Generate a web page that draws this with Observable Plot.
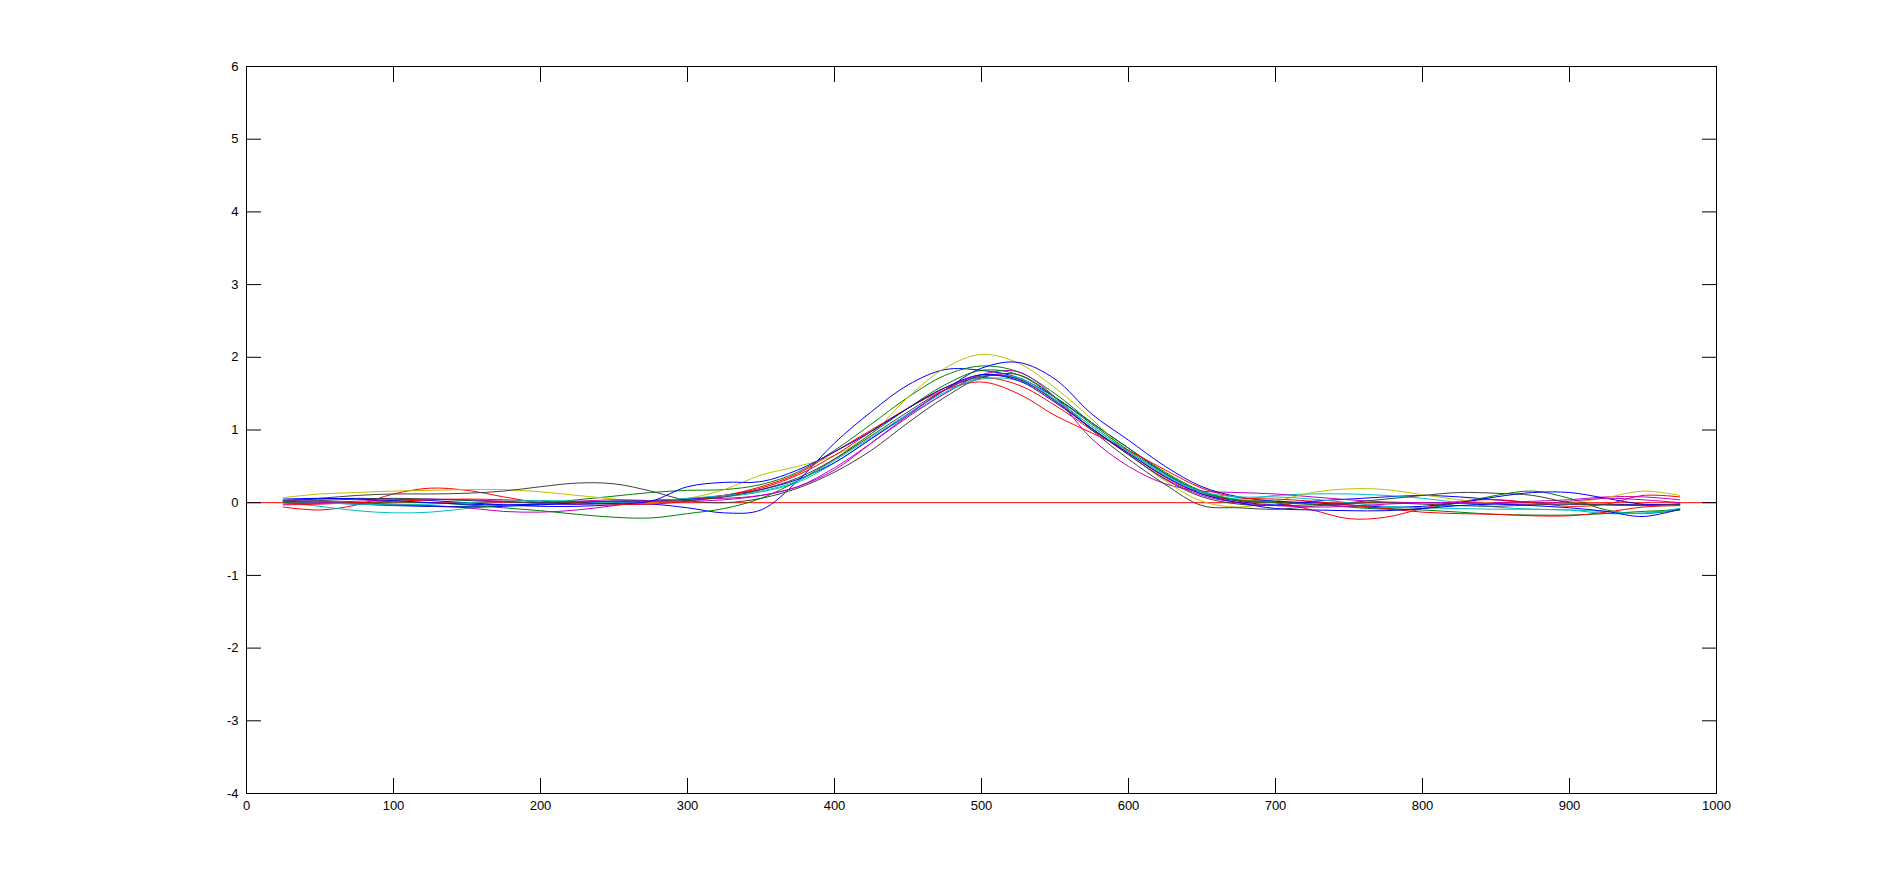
<!DOCTYPE html>
<html><head><meta charset="utf-8">
<script src="https://cdn.jsdelivr.net/npm/d3@7"></script>
<script src="https://cdn.jsdelivr.net/npm/@observablehq/plot@0.6"></script>
<style>html,body{margin:0;padding:0;background:#fff;} svg{display:block;}</style>
</head><body><div id="chart"></div>
<script>
const xKnots = [25,50,75,100,125,150,175,200,225,250,275,300,325,350,375,400,425,450,475,500,525,550,575,600,625,650,675,700,725,750,775,800,825,850,875,900,925,950,975];

const blue1 = [0.03,0.05,0.06,0.05,0.03,0.0,-0.03,-0.05,-0.05,-0.03,-0.02,-0.07,-0.14,-0.1,0.3,0.82,1.25,1.62,1.83,1.82,1.72,1.45,1.1,0.75,0.4,0.14,0.02,-0.03,0.02,0.05,0.08,0.1,0.08,0.04,0.0,-0.02,-0.02,-0.03,-0.02];
const blue2 = [0.02,0.0,-0.02,-0.04,-0.05,-0.06,-0.05,-0.03,0.0,0.02,0.03,0.05,0.1,0.18,0.32,0.55,0.88,1.22,1.55,1.85,1.93,1.7,1.22,0.86,0.5,0.22,0.08,0.02,0.0,-0.03,-0.06,-0.05,0.0,0.08,0.14,0.14,0.06,-0.02,-0.02];
const blue3 = [0.05,0.06,0.05,0.03,0.0,-0.02,-0.03,-0.02,-0.02,-0.01,0.02,0.22,0.28,0.29,0.45,0.7,0.98,1.3,1.58,1.76,1.68,1.38,1.02,0.68,0.36,0.12,0.0,-0.08,-0.1,-0.11,-0.11,-0.08,-0.04,-0.02,-0.04,-0.07,-0.12,-0.19,-0.09];
const green1 = [0.02,0.01,-0.01,-0.03,-0.05,-0.05,-0.04,-0.01,0.04,0.09,0.14,0.17,0.18,0.25,0.42,0.72,1.08,1.45,1.75,1.88,1.8,1.5,1.1,0.75,0.42,0.16,0.04,0.02,-0.02,-0.06,-0.09,-0.08,0.0,0.1,0.16,0.06,-0.1,-0.15,-0.1];
const green2 = [0.0,-0.01,0.0,0.01,0.0,-0.03,-0.07,-0.11,-0.16,-0.2,-0.21,-0.15,-0.08,0.06,0.3,0.6,0.95,1.3,1.62,1.82,1.76,1.45,1.08,0.72,0.4,0.15,0.03,0.0,-0.02,-0.05,-0.08,-0.1,-0.13,-0.16,-0.17,-0.17,-0.15,-0.12,-0.1];
const red1 = [-0.06,-0.1,-0.03,0.12,0.2,0.17,0.08,0.0,-0.02,0.0,0.03,0.05,0.1,0.22,0.4,0.7,1.0,1.3,1.58,1.72,1.62,1.34,1.0,0.68,0.35,0.12,0.03,0.0,-0.1,-0.22,-0.2,-0.08,0.02,0.04,0.0,-0.05,-0.02,0.1,0.08];
const red2 = [-0.03,-0.02,0.0,0.02,0.04,0.05,0.04,0.02,0.0,-0.02,-0.02,0.02,0.1,0.2,0.38,0.65,0.98,1.3,1.55,1.66,1.5,1.2,0.96,0.72,0.45,0.2,0.07,0.05,0.02,-0.03,-0.08,-0.13,-0.15,-0.16,-0.18,-0.18,-0.13,-0.06,-0.04];
const cyan1 = [0.0,-0.05,-0.11,-0.14,-0.13,-0.08,-0.04,-0.02,0.0,0.02,0.03,0.05,0.08,0.15,0.28,0.55,0.88,1.2,1.5,1.73,1.72,1.42,1.05,0.7,0.38,0.14,0.05,0.1,0.12,0.12,0.1,0.06,0.0,-0.06,-0.09,-0.1,-0.15,-0.14,-0.08];
const cyan2 = [0.02,0.0,-0.02,-0.03,-0.02,0.0,0.02,0.03,0.02,0.0,0.02,0.06,0.1,0.16,0.3,0.58,0.9,1.22,1.52,1.7,1.68,1.42,1.05,0.7,0.38,0.15,0.08,0.08,0.05,0.0,-0.05,-0.07,-0.08,-0.09,-0.09,-0.1,-0.12,-0.15,-0.08];
const magenta1 = [0.03,0.02,0.0,-0.02,-0.04,-0.07,-0.12,-0.13,-0.1,-0.04,0.02,0.05,0.06,0.1,0.22,0.48,0.82,1.18,1.5,1.76,1.8,1.45,0.88,0.5,0.26,0.16,0.14,0.12,0.08,0.04,0.01,0.0,-0.01,0.0,0.02,0.04,0.08,0.08,0.04];
const magenta2 = [-0.02,0.0,0.02,0.04,0.05,0.04,0.02,0.0,0.02,0.04,0.03,0.02,0.04,0.1,0.22,0.45,0.82,1.2,1.55,1.76,1.7,1.4,1.02,0.66,0.33,0.1,0.0,-0.04,-0.06,-0.05,-0.02,0.0,0.0,-0.01,-0.02,0.02,0.06,0.04,0.0];
const yellow = [0.07,0.12,0.14,0.16,0.17,0.18,0.18,0.15,0.1,0.05,0.01,0.06,0.18,0.38,0.5,0.65,0.95,1.45,1.85,2.04,1.92,1.58,1.15,0.68,0.3,0.02,-0.06,0.02,0.14,0.19,0.18,0.11,0.04,-0.01,-0.02,0.0,0.07,0.16,0.1];
const gray1 = [0.03,0.06,0.1,0.12,0.12,0.13,0.16,0.22,0.27,0.26,0.16,0.03,0.0,0.06,0.2,0.42,0.72,1.1,1.45,1.72,1.76,1.45,1.0,0.6,0.25,-0.04,-0.07,-0.09,-0.05,0.0,0.05,0.1,0.14,0.13,0.1,0.0,-0.03,-0.03,-0.03];
const gray2 = [0.01,0.03,0.05,0.06,0.05,0.03,0.01,0.0,0.01,0.02,0.02,0.03,0.08,0.18,0.34,0.6,0.92,1.25,1.55,1.74,1.7,1.4,1.02,0.66,0.32,0.08,-0.02,-0.04,-0.03,-0.01,0.0,-0.02,-0.04,-0.05,-0.03,-0.02,-0.03,-0.04,-0.02];

const seriesNames = ["blue1","green1","red1","cyan1","magenta1","yellow","gray1","blue2","green2","red2","cyan2","magenta2","gray2","blue3"];
const seriesColors = ["#0000ff","#008000","#ff0000","#00bfbf","#bf00bf","#bfbf00","#404040","#0000ff","#008000","#ff0000","#00bfbf","#bf00bf","#404040","#0000ff"];
const seriesValues = [blue1,green1,red1,cyan1,magenta1,yellow,gray1,blue2,green2,red2,cyan2,magenta2,gray2,blue3];

const xTicks = [0,100,200,300,400,500,600,700,800,900,1000];
const yTicks = [-4,-3,-2,-1,0,1,2,3,4,5,6];
const zeroLine = [0];

const rows = [];
seriesValues.forEach((vals, s) => vals.forEach((v, i) => rows.push({x: xKnots[i], y: v, series: seriesNames[s]})));

const fmt = d => String(d);

const chart = Plot.plot({
  width: 1896, height: 891,
  marginLeft: 246, marginRight: 180, marginTop: 66, marginBottom: 98,
  style: {fontFamily: "'Liberation Sans', Arial, sans-serif", fontSize: "13px", color: "#000", background: "#fff", overflow: "visible"},
  x: {domain: [0, 1000], label: null},
  y: {domain: [-4, 6], label: null},
  color: {domain: seriesNames, range: seriesColors},
  marks: [
    Plot.ruleY(zeroLine, {stroke: "#ff0000", strokeWidth: 1}),
    Plot.line(rows, {x: "x", y: "y", z: "series", stroke: "series", curve: "catmull-rom", strokeWidth: 1}),
    Plot.frame({stroke: "#000", strokeWidth: 1}),
    Plot.axisX(xTicks, {anchor: "bottom", tickSize: -15, text: null, label: null}),
    Plot.axisX(xTicks, {anchor: "top", tickSize: -15, text: null, label: null}),
    Plot.axisY(yTicks, {anchor: "left", tickSize: -15, text: null, label: null}),
    Plot.axisY(yTicks, {anchor: "right", tickSize: -15, text: null, label: null}),
    Plot.axisX(xTicks, {anchor: "bottom", tickSize: 0, tickPadding: 7, tickFormat: fmt, label: null}),
    Plot.axisY(yTicks, {anchor: "left", tickSize: 0, tickPadding: 8, tickFormat: fmt, label: null})
  ]
});
document.getElementById("chart").appendChild(chart);
</script>
</body></html>
